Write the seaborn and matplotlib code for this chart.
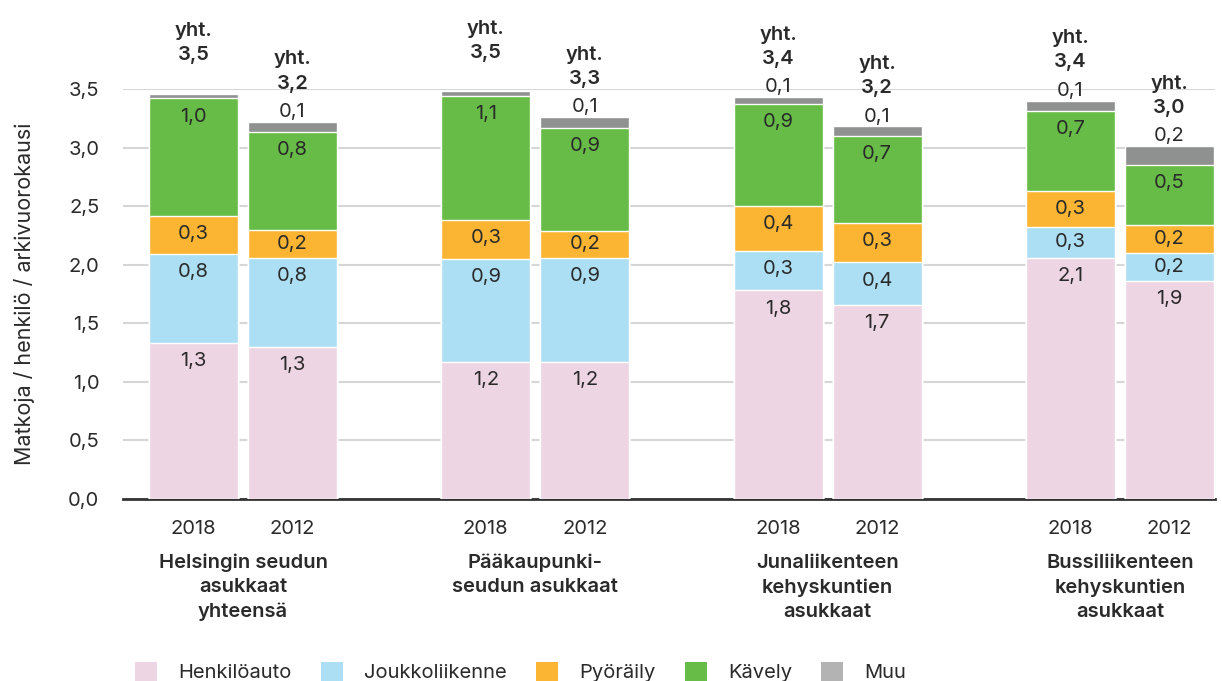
import pandas as pd
import matplotlib
matplotlib.use("Agg")
import matplotlib.pyplot as plt
from matplotlib.patches import Patch
import seaborn as sns

# Data (bar order: each region 2018, 2012)
regions = [
    "Helsingin seudun\nasukkaat\nyhteensä",
    "Pääkaupunki-\nseudun asukkaat",
    "Junaliikenteen\nkehyskuntien\nasukkaat",
    "Bussiliikenteen\nkehyskuntien\nasukkaat",
]
years = ["2018", "2012"]
modes = ["Henkilöauto", "Joukkoliikenne", "Pyöräily", "Kävely", "Muu"]
henkiloauto = [1.33, 1.30, 1.17, 1.17, 1.78, 1.66, 2.06, 1.86]
joukkoliikenne = [0.76, 0.76, 0.88, 0.89, 0.34, 0.36, 0.26, 0.24]
pyoraily = [0.33, 0.24, 0.33, 0.23, 0.38, 0.34, 0.31, 0.24]
kavely = [1.00, 0.83, 1.06, 0.88, 0.87, 0.74, 0.68, 0.51]
muu = [0.04, 0.09, 0.04, 0.09, 0.06, 0.08, 0.09, 0.16]

bar_colors = ["#EDD5E3", "#ADDFF4", "#FBB532", "#66BC46", "#8E9190"]
legend_colors = ["#EDD5E3", "#ADDFF4", "#FBB532", "#66BC46", "#B3B3B3"]

# Long table with cumulative heights
df = pd.DataFrame({
    "region": [r for r in regions for _ in years],
    "year": years * len(regions),
})
series = [henkiloauto, joukkoliikenne, pyoraily, kavely, muu]
cum = [0.0] * len(df)
for name, vals in zip(modes, series):
    df[name + "_bottom"] = cum
    cum = [c + v for c, v in zip(cum, vals)]
    df[name + "_top"] = cum

sns.set_theme(style="white")
plt.rcParams["font.family"] = ["Inter", "DejaVu Sans"]
text_color = "#2a2a2a"
fs = 14.5

fig = plt.figure(figsize=(12.22, 6.81), dpi=100)
ax = fig.add_axes([123 / 1222, 1 - 499 / 681, 1092 / 1222, 410 / 681])

group_width = 0.6776
gap = 0.10
# draw from top layer down so each layer covers the one above it
for name, color in reversed(list(zip(modes, bar_colors))):
    sns.barplot(data=df, x="region", y=name + "_top", hue="year",
                order=regions, hue_order=years, palette=[color, color],
                width=group_width, gap=gap, errorbar=None, saturation=1,
                legend=False, ax=ax, zorder=3)

ax.set_ylim(0, 3.5)
ax.set_xlim(-0.4105, 3.325)
ax.set_yticks([0, 0.5, 1, 1.5, 2, 2.5, 3, 3.5])
ax.set_yticklabels([f"{t:.1f}".replace(".", ",") for t in ax.get_yticks()],
                   fontsize=fs, color=text_color)
ax.yaxis.grid(True, color="#D6D6D6", linewidth=1.5, zorder=0)
ax.set_axisbelow(True)
for s in ["left", "right", "top"]:
    ax.spines[s].set_visible(False)
ax.spines["bottom"].set_color("#333333")
ax.spines["bottom"].set_linewidth(2)
ax.tick_params(axis="y", length=0, pad=17)
ax.tick_params(axis="x", length=0, pad=15)
ax.set_ylabel("Matkoja / henkilö / arkivuorokausi", fontsize=15.5,
              color=text_color, labelpad=24)
ax.set_xlabel("")

# x ticks: years under each bar
offset = group_width / 4
bar_x = []
for gi in range(len(regions)):
    for yi in range(len(years)):
        bar_x.append(gi + (-offset if yi == 0 else offset))
ax.set_xticks(bar_x)
ax.set_xticklabels(years * len(regions), fontsize=fs, color=text_color)

# region labels
for gi, r in enumerate(regions):
    ax.text(gi, -0.133, r, transform=ax.get_xaxis_transform(), ha="center",
            va="top", fontsize=fs, fontweight="semibold", color=text_color,
            linespacing=1.45)

def fmt(v):
    return f"{v:.1f}".replace(".", ",")

# segment labels
for i, x in enumerate(bar_x):
    for name, vals in zip(modes[:-1], series[:-1]):
        bottom = df[name + "_bottom"][i]
        top = df[name + "_top"][i]
        y = max(top - 0.155, (bottom + top) / 2)
        ax.text(x, y, fmt(vals[i]), ha="center", va="center", fontsize=fs,
                color=text_color, zorder=5)
    top = df["Muu_top"][i]
    if muu[i] >= 0.05:
        ax.text(x, top + 0.085, fmt(muu[i]), ha="center", va="center",
                fontsize=fs, color=text_color, zorder=5)
    ax.text(x, top + 0.25, "yht.\n" + fmt(top), ha="center", va="bottom",
            fontsize=fs, fontweight="semibold", color=text_color,
            linespacing=1.45, clip_on=False)

handles = [Patch(facecolor=c, edgecolor="none") for c in legend_colors]
fig.legend(handles, modes, loc="center", bbox_to_anchor=(0.426, 1 - 672 / 681),
           ncol=5, frameon=False, fontsize=fs, handlelength=1.1,
           handleheight=1.1, handletextpad=1.05, columnspacing=1.45,
           labelcolor=text_color)

fig.savefig("out.png", dpi=100)
